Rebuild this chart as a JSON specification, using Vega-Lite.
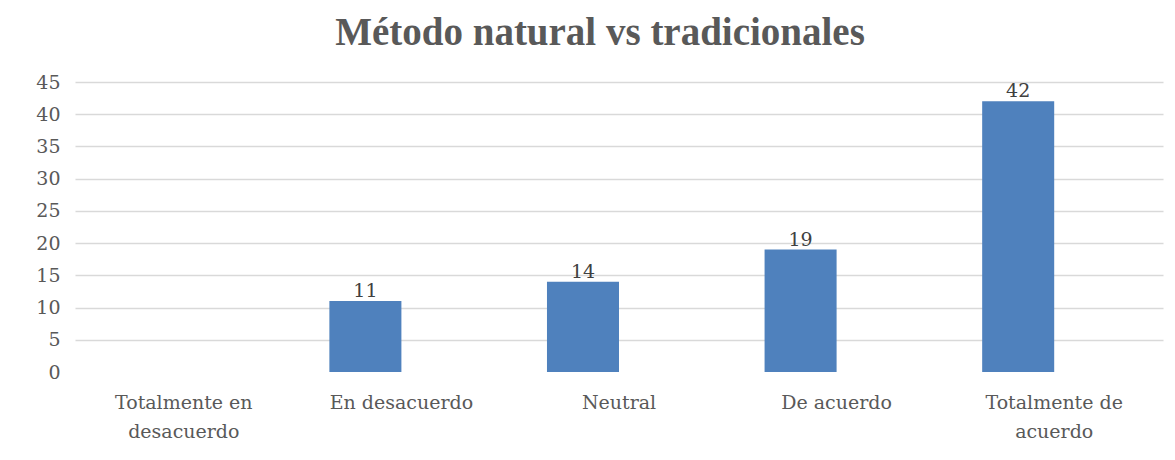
{
  "$schema": "https://vega.github.io/schema/vega-lite/v6.json",
  "autosize": {"type": "none"},
  "width": 1088,
  "height": 290,
  "padding": {"left": 75, "top": 82, "right": 12, "bottom": 88},
  "background": "white",
  "title": {
    "text": "Método natural vs tradicionales",
    "font": "Liberation Serif",
    "fontSize": 39,
    "fontWeight": "bold",
    "color": "#595959",
    "anchor": "middle",
    "offset": 20,
    "dx": -19
  },
  "data": {
    "values": [
      {"categoria": "Totalmente en desacuerdo", "serie": "A", "valor": null},
      {"categoria": "En desacuerdo", "serie": "A", "valor": 11},
      {"categoria": "Neutral", "serie": "A", "valor": 14},
      {"categoria": "De acuerdo", "serie": "A", "valor": 19},
      {"categoria": "Totalmente de acuerdo", "serie": "A", "valor": 42}
    ]
  },
  "encoding": {
    "x": {
      "field": "categoria",
      "type": "nominal",
      "sort": null,
      "scale": {
        "domain": ["Totalmente en desacuerdo", "En desacuerdo", "Neutral", "De acuerdo", "Totalmente de acuerdo"],
        "paddingInner": 0.338,
        "paddingOuter": 0.169
      },
      "axis": {
        "title": null,
        "labelAngle": 0,
        "domain": false,
        "ticks": false,
        "labelFont": "DejaVu Serif",
        "labelFontSize": 19,
        "labelColor": "#595959",
        "labelPadding": 21,
        "labelLineHeight": 29,
        "labelLimit": 300,
        "labelExpr": "datum.value == 'Totalmente en desacuerdo' ? ['Totalmente en', 'desacuerdo'] : datum.value == 'Totalmente de acuerdo' ? ['Totalmente de', 'acuerdo'] : datum.value"
      }
    },
    "xOffset": {"field": "serie", "type": "nominal", "scale": {"domain": ["A", "B"], "padding": 0}},
    "y": {
      "field": "valor",
      "type": "quantitative",
      "scale": {"domain": [0, 45], "nice": false},
      "axis": {
        "title": null,
        "values": [0, 5, 10, 15, 20, 25, 30, 35, 40, 45],
        "domain": false,
        "ticks": false,
        "labelFont": "DejaVu Serif",
        "labelFontSize": 19,
        "labelColor": "#595959",
        "labelPadding": 15,
        "gridColor": "#d9d9d9",
        "gridWidth": 1.5,
        "gridOpacity": {"condition": {"test": "datum.value == 0", "value": 0}, "value": 1}
      }
    }
  },
  "layer": [
    {"mark": {"type": "bar", "color": "#4F81BD"}},
    {
      "transform": [{"filter": "isValid(datum.valor)"}],
      "mark": {
        "type": "text",
        "baseline": "bottom",
        "dy": 0,
        "font": "DejaVu Serif",
        "fontSize": 19,
        "color": "#404040"
      },
      "encoding": {"text": {"field": "valor", "type": "quantitative"}}
    }
  ],
  "config": {"view": {"stroke": null}}
}
